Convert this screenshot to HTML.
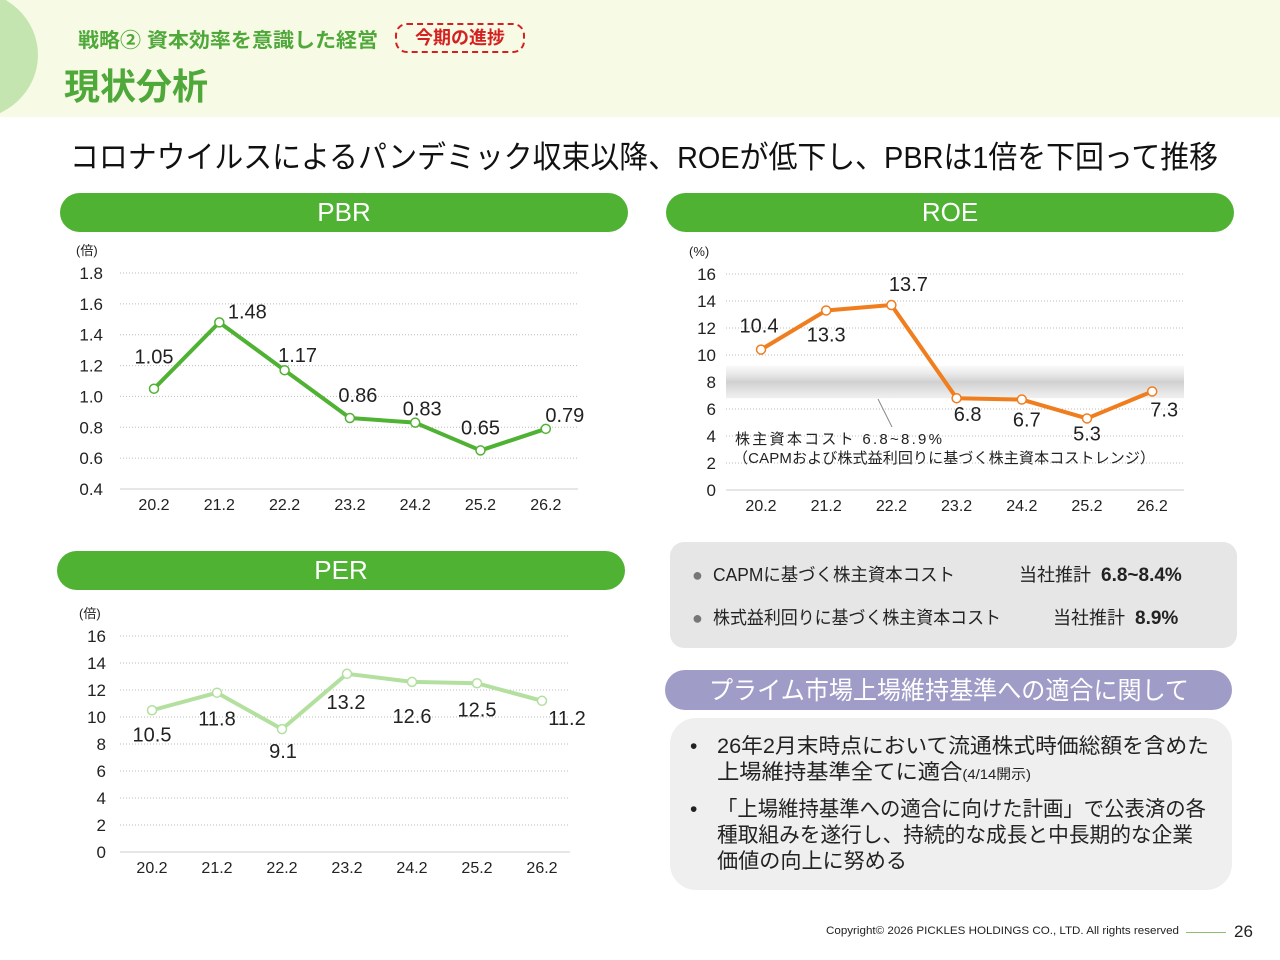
<!DOCTYPE html>
<html><head><meta charset="utf-8">
<style>
body{margin:0;width:1280px;height:960px;position:relative;background:#fff;overflow:hidden;font-family:"Liberation Sans","Noto Sans CJK JP",sans-serif;color:#222}
.abs{position:absolute}
.pill{position:absolute;border-radius:20px;color:#fff;text-align:center;font-size:26px;line-height:39px}
.fit{display:inline-block;transform-origin:0 0;white-space:nowrap}
</style></head><body>
<div class="abs" style="left:0;top:0;width:1280px;height:117px;background:#f7fae4"></div>
<div class="abs" style="left:0;top:0;width:40px;height:117px;overflow:hidden"><div style="position:absolute;left:-100px;top:-10px;width:138px;height:130px;border-radius:50%;background:#c4e5b0"></div></div>
<div class="abs" style="left:78px;top:24px;font-size:20px;font-weight:bold;color:#4fa83a"><span class="fit" data-w="300">戦略② 資本効率を意識した経営</span></div>
<div class="abs" style="left:395px;top:23px;width:126px;height:26px;border:2px dashed #d42020;border-radius:12px;color:#d42020;font-size:18px;font-weight:bold;text-align:center;line-height:26px">今期の進捗</div>
<div class="abs" style="left:64px;top:58px;font-size:36px;font-weight:bold;color:#4fa83a">現状分析</div>
<div class="abs" style="left:70px;top:132px;font-size:31px;color:#111"><span class="fit" data-w="1148">コロナウイルスによるパンデミック収束以降、ROEが低下し、PBRは1倍を下回って推移</span></div>

<div class="pill" style="left:60px;top:193px;width:568px;background:#4fb233">PBR</div>
<div class="pill" style="left:666px;top:193px;width:568px;background:#4fb233">ROE</div>
<div class="pill" style="left:57px;top:551px;width:568px;background:#4fb233">PER</div>

<svg class="abs" style="left:0;top:0" width="1280" height="960">
<defs><linearGradient id="band" x1="0" y1="0" x2="0" y2="1"><stop offset="0" stop-color="#e8e8e8" stop-opacity="0.3"/><stop offset="0.5" stop-color="#d0d0d0"/><stop offset="1" stop-color="#e0e0e0" stop-opacity="0.5"/></linearGradient></defs>
<g id="pbr"></g><g id="roe"></g><g id="per"></g>
</svg>

<div class="abs" style="left:670px;top:542px;width:567px;height:106px;background:#e6e6e6;border-radius:14px"></div>
<div class="abs" style="left:692px;top:561px;font-size:18px;white-space:nowrap"><span style="color:#777">●</span>&nbsp; <span class="fit" data-w="242">CAPMに基づく株主資本コスト</span></div>
<div class="abs" style="left:1019px;top:561px;font-size:18px;white-space:nowrap">当社推計 &nbsp;<b style="font-size:19px">6.8~8.4%</b></div>
<div class="abs" style="left:692px;top:604px;font-size:18px;white-space:nowrap"><span style="color:#777">●</span>&nbsp; <span class="fit" data-w="288">株式益利回りに基づく株主資本コスト</span></div>
<div class="abs" style="left:1053px;top:604px;font-size:18px;white-space:nowrap">当社推計 &nbsp;<b style="font-size:19px">8.9%</b></div>

<div class="pill" style="left:665px;top:670px;width:567px;height:40px;background:#a09cc8;font-size:25px"><span class="fit" data-w="480" style="vertical-align:top;margin-top:2px">プライム市場上場維持基準への適合に関して</span></div>
<div class="abs" style="left:670px;top:718px;width:562px;height:172px;background:#efefef;border-radius:26px"></div>
<div class="abs" style="left:690px;top:734px;font-size:21px;line-height:26px"><span style="position:absolute;left:0">•</span><div style="margin-left:27px"><span class="fit" data-w="492">26年2月末時点において流通株式時価総額を含めた</span><br><span class="fit" data-w="314">上場維持基準全てに適合<span style="font-size:14px">(4/14開示)</span></span></div></div>
<div class="abs" style="left:690px;top:797px;font-size:21px;line-height:26px"><span style="position:absolute;left:0">•</span><div style="margin-left:27px"><span class="fit" data-w="489">「上場維持基準への適合に向けた計画」で公表済の各</span><br><span class="fit" data-w="476">種取組みを遂行し、持続的な成長と中長期的な企業</span><br><span class="fit" data-w="190">価値の向上に努める</span></div></div>

<div class="abs" style="left:826px;top:925px;font-size:11px;white-space:nowrap"><span class="fit" data-w="353">Copyright© 2026 PICKLES HOLDINGS CO., LTD. All rights reserved</span></div>
<div class="abs" style="left:1186px;top:932px;width:40px;height:1px;background:#8cc070"></div>
<div class="abs" style="left:1234px;top:922px;font-size:17px">26</div>

<script>
const categories=["20.2","21.2","22.2","23.2","24.2","25.2","26.2"];
const pbrValues=[1.05,1.48,1.17,0.86,0.83,0.65,0.79];
const pbrTicks=["0.4","0.6","0.8","1.0","1.2","1.4","1.6","1.8"];
const roeValues=[10.4,13.3,13.7,6.8,6.7,5.3,7.3];
const roeTicks=["0","2","4","6","8","10","12","14","16"];
const perValues=[10.5,11.8,9.1,13.2,12.6,12.5,11.2];
const perTicks=["0","2","4","6","8","10","12","14","16"];
const roeBand=[6.8,8.9];
const NS="http://www.w3.org/2000/svg";
function mk(p,t,a){const e=document.createElementNS(NS,t);for(const k in a)e.setAttribute(k,a[k]);p.appendChild(e);return e;}
function chart(g,cfg){
  const y=v=>cfg.yTop+(cfg.max-v)/(cfg.max-cfg.min)*(cfg.yBot-cfg.yTop);
  const x=i=>cfg.x0+i*cfg.dx;
  cfg.ticks.forEach(t=>{const v=parseFloat(t);const yy=y(v);
    const l=mk(g,'line',{x1:cfg.gx0,x2:cfg.gx1,y1:yy,y2:yy,stroke:v===cfg.min?'#ccc':'#bbb','stroke-dasharray':v===cfg.min?'':'1 2','stroke-width':1});
    
    const tx=mk(g,'text',{x:cfg.tickX,y:yy+6,'text-anchor':'end','font-size':17,fill:'#222'});tx.textContent=t;
    });
  const u=mk(g,'text',{x:cfg.unitX,y:cfg.yTop-18,'font-size':13,fill:'#222'});u.textContent=cfg.unit;
  
  categories.forEach((c,i)=>{const t=mk(g,'text',{x:x(i),y:cfg.yBot+21,'text-anchor':'middle','font-size':16,fill:'#222'});t.textContent=c;
    });
  if(cfg.band){const r=mk(g,'rect',{x:cfg.gx0,width:cfg.gx1-cfg.gx0,y:y(cfg.band[1])-4,height:y(cfg.band[0])-y(cfg.band[1])+4,fill:'url(#band)'});
    }
  const pl=mk(g,'polyline',{points:cfg.vals.map((v,i)=>x(i)+','+y(v)).join(' '),fill:'none',stroke:cfg.color,'stroke-width':4,'stroke-linejoin':'round'});
  
  cfg.vals.forEach((v,i)=>{const c=mk(g,'circle',{cx:x(i),cy:y(v),r:4.5,fill:'#fff',stroke:cfg.color,'stroke-width':1.5});
    
    const o=cfg.off[i];const t=mk(g,'text',{x:x(i)+o[0],y:y(v)+o[1]+7,'text-anchor':'middle','font-size':20,fill:'#222'});t.textContent=String(v.toFixed(cfg.dec));
    });
}
chart(document.getElementById('pbr'),{vals:pbrValues,ticks:pbrTicks,min:0.4,max:1.8,yTop:273,yBot:489,x0:154,dx:65.3,gx0:120,gx1:578,tickX:103,unitX:76,unit:'(倍)',color:'#4fb233',dec:2,
  off:[[0,-32],[28,-11],[13,-15],[8,-23],[7,-14],[0,-23],[19,-14]]});
chart(document.getElementById('roe'),{vals:roeValues,ticks:roeTicks,min:0,max:16,yTop:274,yBot:490,x0:761,dx:65.2,gx0:726,gx1:1184,tickX:716,unitX:689,unit:'(%)',color:'#f07d1e',dec:1,band:roeBand,
  off:[[-2,-24],[0,24],[17,-21],[11,16],[5,20],[0,15],[12,18]]});
chart(document.getElementById('per'),{vals:perValues,ticks:perTicks,min:0,max:16,yTop:636,yBot:852,x0:152,dx:65,gx0:120,gx1:570,tickX:106,unitX:79,unit:'(倍)',color:'#b3e09f',dec:1,
  off:[[0,24],[0,26],[1,22],[-1,28],[0,34],[0,26],[25,17]]});
const rg=document.getElementById('roe');
const ln=mk(rg,'line',{x1:878,y1:399,x2:892,y2:427,stroke:'#888','stroke-width':1});

const a1=mk(rg,'text',{x:735,y:444,'font-size':15,fill:'#222',textLength:207});a1.textContent='株主資本コスト  6.8~8.9%';

const a2=mk(rg,'text',{x:733,y:463,'font-size':15,fill:'#222',textLength:422});a2.textContent='（CAPMおよび株式益利回りに基づく株主資本コストレンジ）';

document.querySelectorAll('.fit').forEach(el=>{const w=+el.dataset.w;const r=el.getBoundingClientRect().width;if(r>0)el.style.transform='scaleX('+(w/r)+')';el.style.width=w+'px';el.parentNode.style.whiteSpace='nowrap';});
</script>
</body></html>
